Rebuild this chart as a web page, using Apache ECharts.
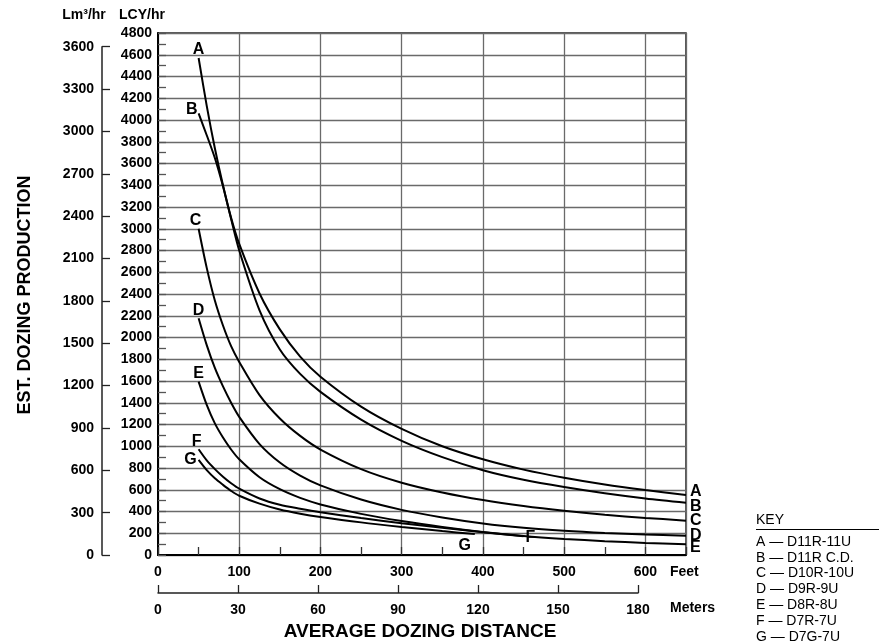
<!DOCTYPE html>
<html>
<head>
<meta charset="utf-8">
<script src="https://cdn.jsdelivr.net/npm/echarts@6/dist/echarts.min.js"></script>
<style>
html, body { margin: 0; padding: 0; background: #fff; }
#main { width: 879px; height: 644px; }
</style>
</head>
<body>
<div id="main"></div>
<script>
// distances in feet, production in LCY/hr
var feetAE = [50, 60, 70, 80, 90, 100, 125, 150, 175, 200, 250, 300, 350, 400, 450, 500, 550, 600, 650];
var prodA = [4570, 4130, 3740, 3400, 3100, 2860, 2405, 2075, 1825, 1640, 1365, 1160, 1000, 880, 785, 710, 648, 597, 552];
var prodB = [4060, 3860, 3650, 3390, 3090, 2800, 2250, 1890, 1665, 1500, 1245, 1050, 900, 780, 692, 625, 568, 520, 481];
var prodC = [3000, 2640, 2340, 2110, 1920, 1775, 1470, 1255, 1095, 970, 790, 665, 575, 505, 450, 406, 370, 341, 316];
var prodD = [2177, 1930, 1720, 1550, 1400, 1270, 1020, 850, 730, 640, 510, 415, 345, 290, 250, 222, 202, 188, 178];
var prodE = [1594, 1380, 1210, 1080, 970, 880, 715, 605, 525, 465, 378, 312, 258, 212, 175, 148, 127, 111, 98];
var feetF = [50, 60, 70, 80, 90, 100, 125, 150, 175, 200, 250, 300, 350, 400, 450];
var prodF = [972, 870, 790, 720, 660, 610, 520, 462, 425, 393, 340, 292, 250, 210, 172];
var feetG = [50, 60, 70, 80, 90, 100, 125, 150, 175, 200, 250, 300, 350, 390];
var prodG = [874, 780, 705, 645, 590, 545, 472, 418, 380, 350, 300, 258, 220, 192];

var curveNames = ['A', 'B', 'C', 'D', 'E', 'F', 'G'];
var modelNames = ['D11R-11U', 'D11R C.D.', 'D10R-10U', 'D9R-9U', 'D8R-8U', 'D7R-7U', 'D7G-7U'];

var lcyMax = 4800, lcyStep = 200;
var lm3Max = 3600, lm3Step = 300;
var feetMax = 650, feetStep = 100;
var meterMax = 180, meterStep = 30;

var FONT = '"Liberation Sans", Arial, Helvetica, sans-serif';

// where the letters sit next to each curve
var startLabels = [
  { position: 'top', distance: 0 },
  { position: 'left', distance: 1, offset: [0, -4] },
  { position: 'top', distance: 0, offset: [-3, 0] },
  { position: 'top', distance: 0 },
  { position: 'top', distance: 0 },
  { position: 'top', distance: 0, offset: [-2, 0] },
  { position: 'left', distance: 2, offset: [0, 0] }
];
var endLabels = [
  { position: 'right', distance: 4, offset: [0, -3] },
  { position: 'right', distance: 4, offset: [0, 4] },
  { position: 'right', distance: 4, offset: [0, 0] },
  { position: 'right', distance: 4, offset: [0, 0] },
  { position: 'right', distance: 4, offset: [0, 3] },
  { position: 'right', distance: 2, offset: [0, 1] },
  { position: 'bottom', distance: 3, offset: [-10, 0] }
];

function makeSeries(i, feet, prod) {
  var data = feet.map(function (f, k) { return [f, prod[k]]; });
  var lbl = { fontFamily: FONT, fontWeight: 'bold', fontSize: 16, color: '#000' };
  data[0] = { value: data[0], label: Object.assign({ show: true, formatter: curveNames[i] }, lbl, startLabels[i]) };
  var last = data.length - 1;
  data[last] = { value: data[last], label: Object.assign({ show: true, formatter: curveNames[i] }, lbl, endLabels[i]) };
  return {
    name: curveNames[i],
    type: 'line',
    xAxisIndex: 0,
    yAxisIndex: 0,
    smooth: 0.3,
    symbol: 'circle',
    symbolSize: 0,
    showSymbol: true,
    showAllSymbol: true,
    clip: false,
    lineStyle: { color: '#000', width: 2 },
    itemStyle: { color: '#000' },
    label: { show: false },
    emphasis: { disabled: true },
    data: data
  };
}

var series = [
  makeSeries(0, feetAE, prodA),
  makeSeries(1, feetAE, prodB),
  makeSeries(2, feetAE, prodC),
  makeSeries(3, feetAE, prodD),
  makeSeries(4, feetAE, prodE),
  makeSeries(5, feetF, prodF),
  makeSeries(6, feetG, prodG)
];

var keyItems = curveNames.map(function (c, i) {
  return {
    type: 'text', x: 756, y: 542 + i * 15.8,
    style: { text: c + ' \u2014 ' + modelNames[i], fontFamily: FONT, fontSize: 14, fill: '#000', align: 'left', verticalAlign: 'middle' }
  };
});

function boldText(txt, x, y, size, align, extra) {
  return Object.assign({
    type: 'text', x: x, y: y,
    style: { text: txt, fontFamily: FONT, fontWeight: 'bold', fontSize: size, fill: '#000', align: align, verticalAlign: 'middle' }
  }, extra || {});
}

function plain(v) { return String(v); }

var myChart = echarts.init(document.getElementById('main'));
var option = {
  animation: false,
  backgroundColor: '#fff',
  grid: [
    { left: 158, top: 33, width: 528, height: 522, show: true, borderColor: '#222', borderWidth: 1.5 },
    { left: 102, top: 46.7, width: 1, height: 508.3 },
    { left: 158, top: 592, width: 480, height: 1 }
  ],
  xAxis: [
    {
      gridIndex: 0, type: 'value', min: 0, max: feetMax, interval: feetStep, position: 'bottom',
      axisLine: { show: true, lineStyle: { color: '#000', width: 2 } },
      axisTick: { show: false },
      axisLabel: {
        margin: 10, fontFamily: FONT, fontWeight: 'bold', fontSize: 14, color: '#000',
        formatter: function (v) { return v > 600 ? '' : String(v); }
      },
      splitLine: { show: true, lineStyle: { color: '#6a6a6a', width: 1.3 } }
    },
    {
      gridIndex: 0, type: 'value', min: 0, max: feetMax, interval: feetStep / 2, position: 'bottom',
      axisLine: { show: false },
      axisTick: { show: true, inside: true, length: 8, lineStyle: { color: '#333', width: 1.3 } },
      axisLabel: { show: false },
      splitLine: { show: false }
    },
    { gridIndex: 1, type: 'value', show: false },
    {
      gridIndex: 2, type: 'value', min: 0, max: meterMax, interval: meterStep, position: 'bottom',
      axisLine: { show: true, lineStyle: { color: '#222', width: 1.5 } },
      axisTick: { show: true, inside: true, length: 8, lineStyle: { color: '#222', width: 1.3 } },
      axisLabel: { margin: 10, fontFamily: FONT, fontWeight: 'bold', fontSize: 14, color: '#000', formatter: plain },
      splitLine: { show: false }
    }
  ],
  yAxis: [
    {
      gridIndex: 0, type: 'value', min: 0, max: lcyMax, interval: lcyStep,
      axisLine: { show: true, lineStyle: { color: '#000', width: 2 } },
      axisTick: { show: true, inside: true, length: 8, lineStyle: { color: '#555', width: 1.3 } },
      minorTick: { show: true, splitNumber: 2, length: 8, lineStyle: { color: '#555', width: 1.3 } },
      axisLabel: { margin: 6, fontFamily: FONT, fontWeight: 'bold', fontSize: 14, color: '#000', formatter: plain },
      splitLine: { show: true, lineStyle: { color: '#6a6a6a', width: 1.3 } }
    },
    {
      gridIndex: 1, type: 'value', min: 0, max: lm3Max, interval: lm3Step, position: 'left',
      axisLine: { show: true, lineStyle: { color: '#222', width: 1.5 } },
      axisTick: { show: true, inside: true, length: 8, lineStyle: { color: '#222', width: 1.3 } },
      axisLabel: { margin: 8, fontFamily: FONT, fontWeight: 'bold', fontSize: 14, color: '#000', formatter: plain },
      splitLine: { show: false }
    },
    { gridIndex: 2, type: 'value', show: false }
  ],
  graphic: [
    boldText('Lm\u00b3/hr', 84, 15, 14, 'center'),
    boldText('LCY/hr', 142, 15, 14, 'center'),
    boldText('Feet', 670, 572, 14, 'left'),
    boldText('Meters', 670, 608, 14, 'left'),
    boldText('AVERAGE DOZING DISTANCE', 420, 632, 19, 'center'),
    boldText('EST. DOZING PRODUCTION', 25, 295, 18, 'center', { rotation: Math.PI / 2 }),
    {
      type: 'text', x: 756, y: 520,
      style: { text: 'KEY', fontFamily: FONT, fontSize: 14, fill: '#000', align: 'left', verticalAlign: 'middle' }
    },
    { type: 'line', shape: { x1: 756, y1: 529.5, x2: 879, y2: 529.5 }, style: { stroke: '#000', lineWidth: 1 } }
  ].concat(keyItems),
  series: series
};
myChart.setOption(option);
</script>
</body>
</html>
